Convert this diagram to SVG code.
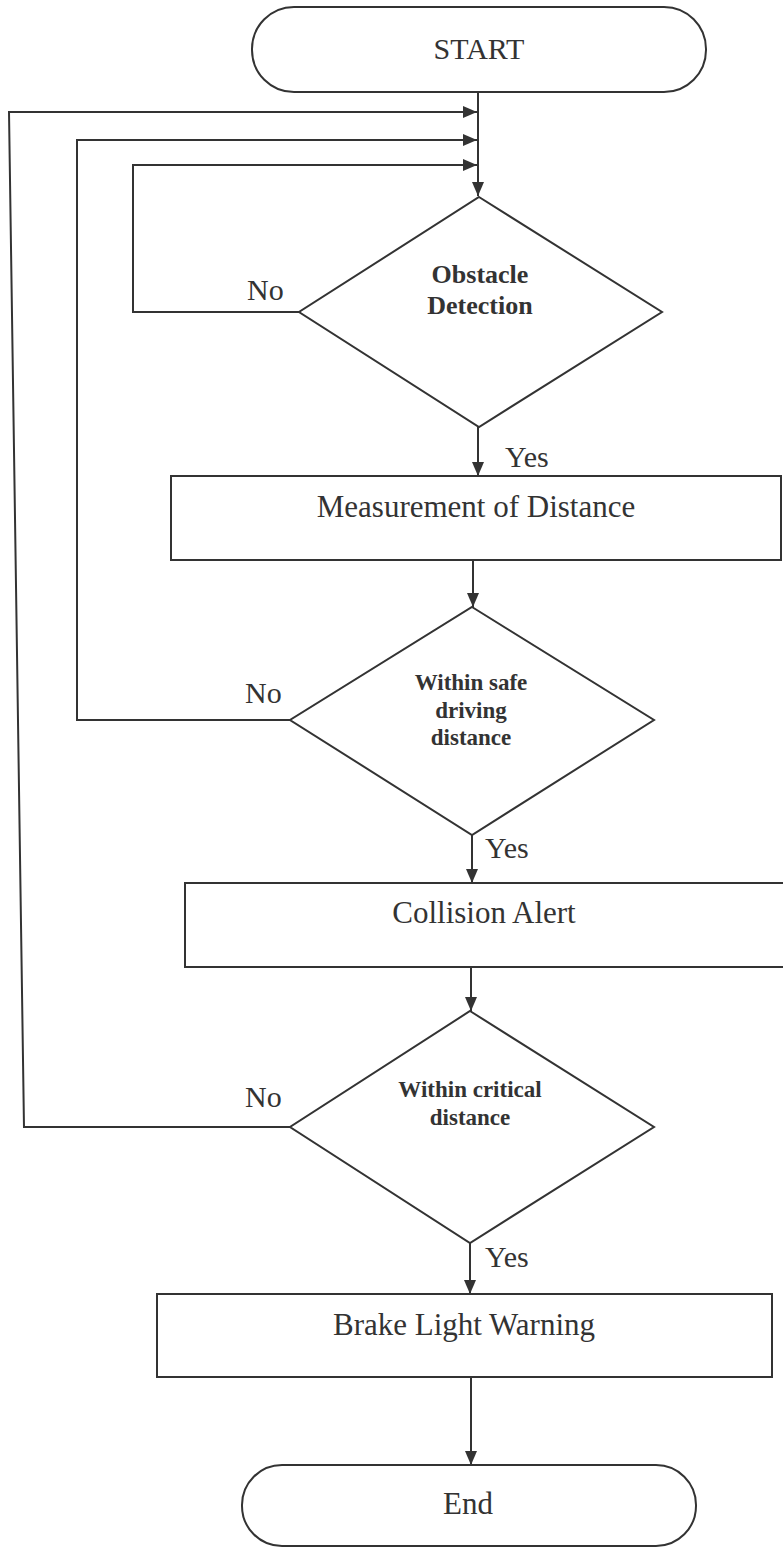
<svg xmlns="http://www.w3.org/2000/svg" width="783" height="1548" viewBox="0 0 783 1548">
<style>
.shape{fill:#fff;stroke:#333;stroke-width:2}
.con{fill:none;stroke:#333;stroke-width:2}
.t{font-family:"Liberation Serif","Times New Roman",serif;fill:#333;font-size:30px}
.big{font-size:31px}
.b{font-family:"Liberation Serif","Times New Roman",serif;fill:#333;font-weight:bold;font-size:23px}
.m{text-anchor:middle}
</style>
<defs>
<marker id="arr" markerUnits="userSpaceOnUse" markerWidth="14" markerHeight="12" refX="14" refY="6" orient="auto">
<path d="M0,0 L14,6 L0,12 z" fill="#333"/>
</marker>
</defs>
<rect width="783" height="1548" fill="#fff"/>
<g id="connectors">
<path class="con" d="M478,92 V196" marker-end="url(#arr)"/>
<path class="con" d="M299,312 H133 V165 H477" marker-end="url(#arr)"/>
<path class="con" d="M290,720 H77 V140 H477" marker-end="url(#arr)"/>
<path class="con" d="M290,1127 H24 L9,112 H477" marker-end="url(#arr)"/>
<path class="con" d="M478,427 V476" marker-end="url(#arr)"/>
<path class="con" d="M473,560 V607" marker-end="url(#arr)"/>
<path class="con" d="M472,835 V883" marker-end="url(#arr)"/>
<path class="con" d="M471,967 V1011" marker-end="url(#arr)"/>
<path class="con" d="M470,1243 V1294" marker-end="url(#arr)"/>
<path class="con" d="M471,1377 V1465" marker-end="url(#arr)"/>
</g>
<g id="start">
<rect class="shape" x="252" y="7" width="454" height="85" rx="42" ry="42"/>
<text class="t m" x="479" y="59">START</text>
</g>
<g id="obstacle">
<polygon class="shape" points="479,197 662,312 479,427 299,312"/>
<text class="b m" x="480" y="283" style="font-size:26px">Obstacle</text>
<text class="b m" x="480" y="314" style="font-size:26px">Detection</text>
<text class="t" x="247" y="300">No</text>
<text class="t" x="505" y="467">Yes</text>
</g>
<g id="measure">
<rect class="shape" x="171" y="476" width="610" height="84"/>
<text class="t big m" x="476" y="517">Measurement of Distance</text>
</g>
<g id="safe">
<polygon class="shape" points="472,607 654,720 472,835 290,720"/>
<text class="b m" x="471" y="690">Within safe</text>
<text class="b m" x="471" y="718">driving</text>
<text class="b m" x="471" y="745">distance</text>
<text class="t" x="245" y="703">No</text>
<text class="t" x="485" y="858">Yes</text>
</g>
<g id="alert">
<rect class="shape" x="185" y="883" width="605" height="84"/>
<text class="t big m" x="484" y="923">Collision Alert</text>
</g>
<g id="critical">
<polygon class="shape" points="470,1011 654,1127 470,1243 290,1127"/>
<text class="b m" x="470" y="1097">Within critical</text>
<text class="b m" x="470" y="1125">distance</text>
<text class="t" x="245" y="1107">No</text>
<text class="t" x="485" y="1267">Yes</text>
</g>
<g id="brake">
<rect class="shape" x="157" y="1294" width="615" height="83"/>
<text class="t big m" x="464" y="1335">Brake Light Warning</text>
</g>
<g id="end">
<rect class="shape" x="242" y="1465" width="454" height="81" rx="40" ry="40"/>
<text class="t big m" x="468" y="1514">End</text>
</g>
</svg>
